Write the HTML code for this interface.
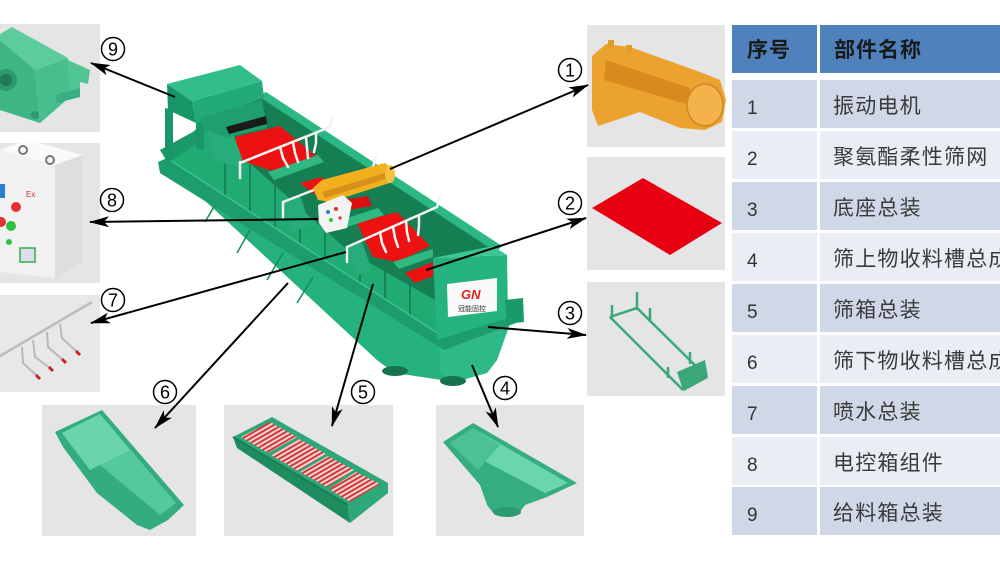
<!DOCTYPE html>
<html><head><meta charset="utf-8"><style>
html,body{margin:0;padding:0;background:#fff;}
body{width:1000px;height:562px;overflow:hidden;}
svg{display:block;}
text{font-family:"Liberation Sans","Noto Sans CJK SC",sans-serif;}
</style></head><body>
<svg width="1000" height="562" viewBox="0 0 1000 562" xmlns="http://www.w3.org/2000/svg">
<defs>
<marker id="ah" markerWidth="20" markerHeight="11" refX="19" refY="5.5" orient="auto" markerUnits="userSpaceOnUse">
<path d="M0,0 L20,5.5 L0,11 L5,5.5 Z" fill="#000"/>
</marker>
<pattern id="scr" width="4" height="4" patternUnits="userSpaceOnUse" patternTransform="rotate(-30)">
<rect width="4" height="4" fill="#f2d4d4"/><rect width="4" height="2" fill="#d23a3a"/>
</pattern>
</defs>
<rect width="1000" height="562" fill="#fff"/>

<!-- ===== Panels ===== -->
<rect x="0" y="24" width="100" height="108" fill="#e5e5e5"/>
<rect x="0" y="143" width="100" height="140" fill="#e5e5e5"/>
<rect x="0" y="295" width="100" height="97" fill="#e8e8e8"/>
<rect x="42" y="405" width="154" height="131" fill="#e5e5e5"/>
<rect x="224" y="405" width="169" height="131" fill="#e5e5e5"/>
<rect x="436" y="405" width="148" height="131" fill="#e5e5e5"/>
<rect x="587" y="25" width="138" height="122" fill="#e5e5e5"/>
<rect x="587" y="157" width="138" height="113" fill="#e5e5e5"/>
<rect x="587" y="282" width="138" height="114" fill="#e5e5e5"/>

<!-- P9 feed box -->
<polygon points="0,40 35,70 40,123 0,110" fill="#3db585"/>
<polygon points="0,34 12,27 68,58 35,70 0,40" fill="#5ccc9c"/>
<polygon points="35,70 68,58 70,97 40,123" fill="#48bd8d"/>
<polygon points="68,60 90,70 88,84 80,82 80,96 70,97" fill="#52c595"/>
<polygon points="55,95 80,88 80,97 57,103" fill="#3aae80"/>
<circle cx="6" cy="80" r="11" fill="#2c9a6e"/><circle cx="6" cy="80" r="6" fill="#1f7a55"/>
<circle cx="35" cy="115" r="4" fill="#2c9a6e"/>

<!-- P8 electric box -->
<polygon points="0,150 28,140 83,155 55,165" fill="#fafafa"/>
<polygon points="0,150 55,165 55,278 0,272" fill="#f1f1f1"/>
<polygon points="55,165 83,155 83,262 55,278" fill="#dedede"/>
<circle cx="23" cy="150" r="4" fill="none" stroke="#777" stroke-width="2"/>
<circle cx="50" cy="160" r="4" fill="none" stroke="#777" stroke-width="2"/>
<rect x="0" y="184" width="5" height="14" fill="#2a7fd0"/>
<circle cx="16" cy="207" r="5" fill="#e03030"/>
<circle cx="1" cy="222" r="5" fill="#e03030"/>
<circle cx="11" cy="226" r="5" fill="#30c040"/>
<circle cx="9" cy="242" r="3" fill="#30c040"/>
<text x="26" y="197" font-size="8" fill="#d03030">Ex</text>
<rect x="20" y="248" width="15" height="14" fill="#dde" stroke="#30b040" stroke-width="1.5"/>

<!-- P7 spray pipes -->
<line x1="0" y1="356" x2="92" y2="302" stroke="#bcbcbc" stroke-width="2.5"/>
<polyline points="22,347 23,363 37,376" fill="none" stroke="#b8b8b8" stroke-width="2"/>
<polyline points="33,340 35,357 50,368" fill="none" stroke="#b8b8b8" stroke-width="2"/>
<polyline points="47,332 48,347 63,360" fill="none" stroke="#b8b8b8" stroke-width="2"/>
<polyline points="60,324 62,338 77,352" fill="none" stroke="#b8b8b8" stroke-width="2"/>
<line x1="36" y1="375" x2="40" y2="379" stroke="#d02020" stroke-width="3"/>
<line x1="49" y1="367" x2="53" y2="371" stroke="#d02020" stroke-width="3"/>
<line x1="62" y1="359" x2="66" y2="363" stroke="#d02020" stroke-width="3"/>
<line x1="76" y1="351" x2="80" y2="355" stroke="#d02020" stroke-width="3"/>

<!-- P6 trough -->
<polygon points="55,432 102,410 184,505 168,520 150,530 137,525 97,493 63,447" fill="#33ac7f"/>
<polygon points="62,433 100,414 176,503 160,515" fill="#55c89c"/>
<polygon points="62,433 100,414 130,450 90,470" fill="#6ad4ab"/>

<!-- P5 screen box -->
<polygon points="233,437 348,505 350,523 237,448" fill="#1f8c60"/>
<polygon points="233,437 272,417 388,483 388,493 350,523 348,505" fill="#2ea878"/>
<polygon points="241,437 270,422 297,437 268,453" fill="url(#scr)"/>
<polygon points="271,455 299,439 326,454 298,471" fill="url(#scr)"/>
<polygon points="300,472 328,456 354,470 327,487" fill="url(#scr)"/>
<polygon points="329,489 356,472 380,484 350,502" fill="url(#scr)"/>
<line x1="233" y1="437" x2="348" y2="505" stroke="#1b7d55" stroke-width="2"/>

<!-- P4 hopper -->
<polygon points="443,442 473,423 577,483 547,497 525,505 518,515 495,515 487,505 480,485" fill="#34ae80"/>
<polygon points="450,443 473,428 568,483 545,493" fill="#6bd6ad"/>
<polygon points="450,443 473,428 500,445 478,470" fill="#4cc294"/>
<ellipse cx="507" cy="512" rx="14" ry="5" fill="#2a9a6f"/>

<!-- P3 frame -->
<g stroke="#3aa878" stroke-width="2.5" fill="none">
<line x1="610" y1="317" x2="683" y2="390"/>
<line x1="637" y1="308" x2="707" y2="377"/>
<line x1="610" y1="317" x2="637" y2="308"/>
<line x1="683" y1="390" x2="707" y2="377"/>
<line x1="612" y1="305" x2="612" y2="318"/>
<line x1="637" y1="292" x2="637" y2="310"/>
<line x1="650" y1="308" x2="650" y2="322"/>
<line x1="668" y1="367" x2="668" y2="378"/>
<line x1="690" y1="352" x2="690" y2="364"/>
</g>
<polygon points="677,372 705,360 708,377 683,390" fill="#3aa878"/>

<!-- P2 red screen -->
<polygon points="592,208 643,178 722,223 670,255" fill="#e60012"/>

<!-- P1 motor -->
<polygon points="592,56 606,44 630,47 700,72 720,80 726,100 722,122 705,130 680,128 640,112 598,126 592,110" fill="#eca22e"/>
<polygon points="606,60 690,88 690,105 604,80" fill="#d88a1e"/>
<rect x="608" y="40" width="6" height="8" fill="#e39a28"/>
<rect x="626" y="45" width="6" height="8" fill="#e39a28"/>
<ellipse cx="705" cy="105" rx="18" ry="21" fill="#f3b24a" stroke="#cf8820" stroke-width="1.5"/>

<!-- ===== Main machine ===== -->
<polygon points="175,170 445,345 512,318 497,360 487,373 455,382 395,373 378,361 188,185" fill="#26b27c"/>
<polygon points="440,345 512,318 497,360 487,373 455,382 440,372" fill="#2dba86"/>
<g stroke="#178a5c" stroke-width="1.5">
<line x1="250" y1="230" x2="237" y2="253"/>
<line x1="283" y1="253" x2="267" y2="280"/>
<line x1="313" y1="277" x2="297" y2="303"/>
<line x1="215" y1="205" x2="205" y2="222"/>
</g>
<ellipse cx="395" cy="371" rx="13" ry="5" fill="#16724f"/>
<ellipse cx="453" cy="381" rx="13" ry="5" fill="#16724f"/>

<polygon points="203,122 347,250 437,300 442,338 167,158" fill="#20aa74"/>
<g stroke="#137a50" stroke-width="1.5">
<line x1="225" y1="141" x2="225" y2="196"/>
<line x1="250" y1="164" x2="250" y2="212"/>
<line x1="275" y1="186" x2="275" y2="228"/>
<line x1="300" y1="208" x2="300" y2="245"/>
<line x1="325" y1="230" x2="325" y2="261"/>
<line x1="360" y1="258" x2="360" y2="284"/>
<line x1="385" y1="271" x2="385" y2="300"/>
<line x1="410" y1="285" x2="410" y2="316"/>
</g>
<polygon points="158,162 167,158 442,336 522,306 524,320 444,350 160,173" fill="#1c9d6b"/>
<polyline points="167,158 442,336 522,306" fill="none" stroke="#3cc48f" stroke-width="1.5"/>

<polygon points="232,104 263,95 498,250 435,258 435,300 347,250 203,122" fill="#167e53"/>
<polygon points="258,96 266,92 502,246 496,252" fill="#2bb883"/>

<polygon points="235,137 280,126 317,157 275,172 240,160" fill="#ee1111"/>
<polygon points="300,183 322,177 330,188 314,194" fill="#ee1111"/>
<polygon points="342,200 368,196 372,206 348,210" fill="#d81010"/>
<polygon points="357,223 397,212 430,246 397,262 373,257" fill="#ee1111"/>
<polygon points="405,273 433,262 433,276 415,283" fill="#ee1111"/>

<polygon points="268,172 318,155 324,162 274,180" fill="#2fb981"/>
<polygon points="335,222 378,208 384,215 341,229" fill="#2fb981"/>
<polygon points="393,262 433,249 433,257 399,269" fill="#2fb981"/>
<polygon points="205,122 232,130 246,170 214,160" fill="#27ad79"/>
<polygon points="283,202 300,195 310,225 292,232" fill="#27ad79"/>
<polygon points="347,247 362,242 372,270 357,276" fill="#27ad79"/>

<g stroke="#f4f4f4" stroke-width="2.5" fill="none" stroke-linecap="round">
<line x1="240" y1="163" x2="330" y2="127"/>
<line x1="240" y1="162" x2="240" y2="178"/>
<line x1="330" y1="127" x2="332" y2="117"/>
<polyline points="280,147 283,158 288,167"/>
<polyline points="293,142 295,153 298,162"/>
<polyline points="306,137 307,148 308,158"/>
<polyline points="316,133 316,143 314,152"/>
<line x1="283" y1="202" x2="373" y2="167"/>
<line x1="283" y1="202" x2="283" y2="218"/>
<line x1="373" y1="167" x2="376" y2="157"/>
<line x1="347" y1="247" x2="437" y2="207"/>
<line x1="347" y1="247" x2="347" y2="262"/>
<line x1="437" y1="207" x2="440" y2="197"/>
<polyline points="380,232 382,243 386,252"/>
<polyline points="393,227 395,238 398,247"/>
<polyline points="406,221 407,232 409,241"/>
<polyline points="419,216 419,226 418,235"/>
</g>

<polygon points="313,188 322,180 385,163 392,169 393,182 330,202 318,200" fill="#f2b01e"/>
<polygon points="322,192 388,172 389,178 325,198" fill="#d8901a"/>
<ellipse cx="390" cy="174" rx="5" ry="9" fill="#f7c040"/>

<polygon points="318,205 343,195 352,203 347,228 326,233 319,223" fill="#f3f3f3"/>
<circle cx="328" cy="212" r="2" fill="#2a7fd0"/>
<circle cx="336" cy="209" r="2" fill="#e03030"/>
<circle cx="331" cy="220" r="2" fill="#30c040"/>
<circle cx="340" cy="218" r="1.6" fill="#e03030"/>

<polygon points="160,150 200,128 205,138 168,163" fill="#1a9a69"/>
<polygon points="165,108 173,110 173,160 165,160" fill="#19966a"/>
<polygon points="196,120 204,122 204,150 196,148" fill="#19966a"/>
<polygon points="167,84 192,101 196,123 168,110" fill="#179567"/>
<polygon points="192,101 262,81 264,98 196,123" fill="#22aa77"/>
<polygon points="167,84 240,65 262,81 192,101" fill="#31be8a"/>
<polygon points="200,118 262,100 267,128 228,137 203,130" fill="#1e9f6d"/>
<polygon points="226,127 266,116 267,124 229,134" fill="#1b1b1b"/>

<polygon points="433,258 507,255 508,318 437,340" fill="#25b47f"/>
<polygon points="433,258 493,246 507,255" fill="#3cc694"/>
<polygon points="505,300 523,298 524,322 507,324" fill="#1a9a69"/>
<polygon points="447,284 497,278 497,311 448,317" fill="#fafafa"/>
<text x="461" y="299" font-size="13" font-weight="bold" font-style="italic" fill="#e02020">GN</text>
<text x="458" y="311" font-size="7" fill="#333">冠能固控</text>

<!-- ===== Arrows ===== -->
<g stroke="#000" stroke-width="2" marker-end="url(#ah)">
<line x1="390" y1="169" x2="588" y2="85"/>
<line x1="426" y1="270" x2="586" y2="218"/>
<line x1="488" y1="327" x2="586" y2="335"/>
<line x1="472" y1="365" x2="498" y2="427"/>
<line x1="373" y1="284" x2="332" y2="426"/>
<line x1="288" y1="283" x2="155" y2="428"/>
<line x1="346" y1="252" x2="91" y2="323"/>
<line x1="318" y1="219" x2="90" y2="222"/>
<line x1="175" y1="97" x2="91" y2="63"/>
</g>

<!-- ===== Circled numbers ===== -->
<g fill="#fff" stroke="#000" stroke-width="1.5">
<circle cx="570" cy="70" r="11.5"/>
<circle cx="570" cy="203" r="11.5"/>
<circle cx="570" cy="313" r="11.5"/>
<circle cx="505" cy="388" r="11.5"/>
<circle cx="363" cy="392" r="11.5"/>
<circle cx="165" cy="392" r="11.5"/>
<circle cx="113" cy="300" r="11.5"/>
<circle cx="112" cy="200" r="11.5"/>
<circle cx="113" cy="49" r="11.5"/>
</g>
<g font-size="18" text-anchor="middle" fill="#000">
<text x="570" y="76.5">1</text>
<text x="570" y="209.5">2</text>
<text x="570" y="319.5">3</text>
<text x="505" y="394.5">4</text>
<text x="363" y="398.5">5</text>
<text x="165" y="398.5">6</text>
<text x="113" y="306.5">7</text>
<text x="112" y="206.5">8</text>
<text x="113" y="55.5">9</text>
</g>

<!-- ===== Table ===== -->
<rect x="732" y="25" width="85" height="48" fill="#4f81bd"/>
<rect x="820" y="25" width="180" height="48" fill="#4f81bd"/>
<g>
<rect x="732" y="80" width="85" height="48" fill="#d0d8e8"/><rect x="820" y="80" width="180" height="48" fill="#d0d8e8"/>
<rect x="732" y="131" width="85" height="48" fill="#e9edf4"/><rect x="820" y="131" width="180" height="48" fill="#e9edf4"/>
<rect x="732" y="182" width="85" height="48" fill="#d0d8e8"/><rect x="820" y="182" width="180" height="48" fill="#d0d8e8"/>
<rect x="732" y="233" width="85" height="48" fill="#e9edf4"/><rect x="820" y="233" width="180" height="48" fill="#e9edf4"/>
<rect x="732" y="284" width="85" height="48" fill="#d0d8e8"/><rect x="820" y="284" width="180" height="48" fill="#d0d8e8"/>
<rect x="732" y="335" width="85" height="48" fill="#e9edf4"/><rect x="820" y="335" width="180" height="48" fill="#e9edf4"/>
<rect x="732" y="386" width="85" height="48" fill="#d0d8e8"/><rect x="820" y="386" width="180" height="48" fill="#d0d8e8"/>
<rect x="732" y="437" width="85" height="48" fill="#e9edf4"/><rect x="820" y="437" width="180" height="48" fill="#e9edf4"/>
<rect x="732" y="487" width="85" height="48" fill="#d0d8e8"/><rect x="820" y="487" width="180" height="48" fill="#d0d8e8"/>
</g>
<g font-size="21" font-weight="bold" fill="#1a1a1a" letter-spacing="1">
<text x="747" y="57">序号</text>
<text x="834" y="57">部件名称</text>
</g>
<g font-size="19" fill="#333">
<text x="747" y="114">1</text>
<text x="747" y="165">2</text>
<text x="747" y="216">3</text>
<text x="747" y="267">4</text>
<text x="747" y="318">5</text>
<text x="747" y="369">6</text>
<text x="747" y="420">7</text>
<text x="747" y="471">8</text>
<text x="747" y="521">9</text>
</g>
<g font-size="21" fill="#3a3a3a" letter-spacing="1.2">
<text x="833" y="113">振动电机</text>
<text x="833" y="164">聚氨酯柔性筛网</text>
<text x="833" y="215">底座总装</text>
<text x="833" y="266">筛上物收料槽总成</text>
<text x="833" y="317">筛箱总装</text>
<text x="833" y="368">筛下物收料槽总成</text>
<text x="833" y="419">喷水总装</text>
<text x="833" y="470">电控箱组件</text>
<text x="833" y="520">给料箱总装</text>
</g>
</svg>
</body></html>
